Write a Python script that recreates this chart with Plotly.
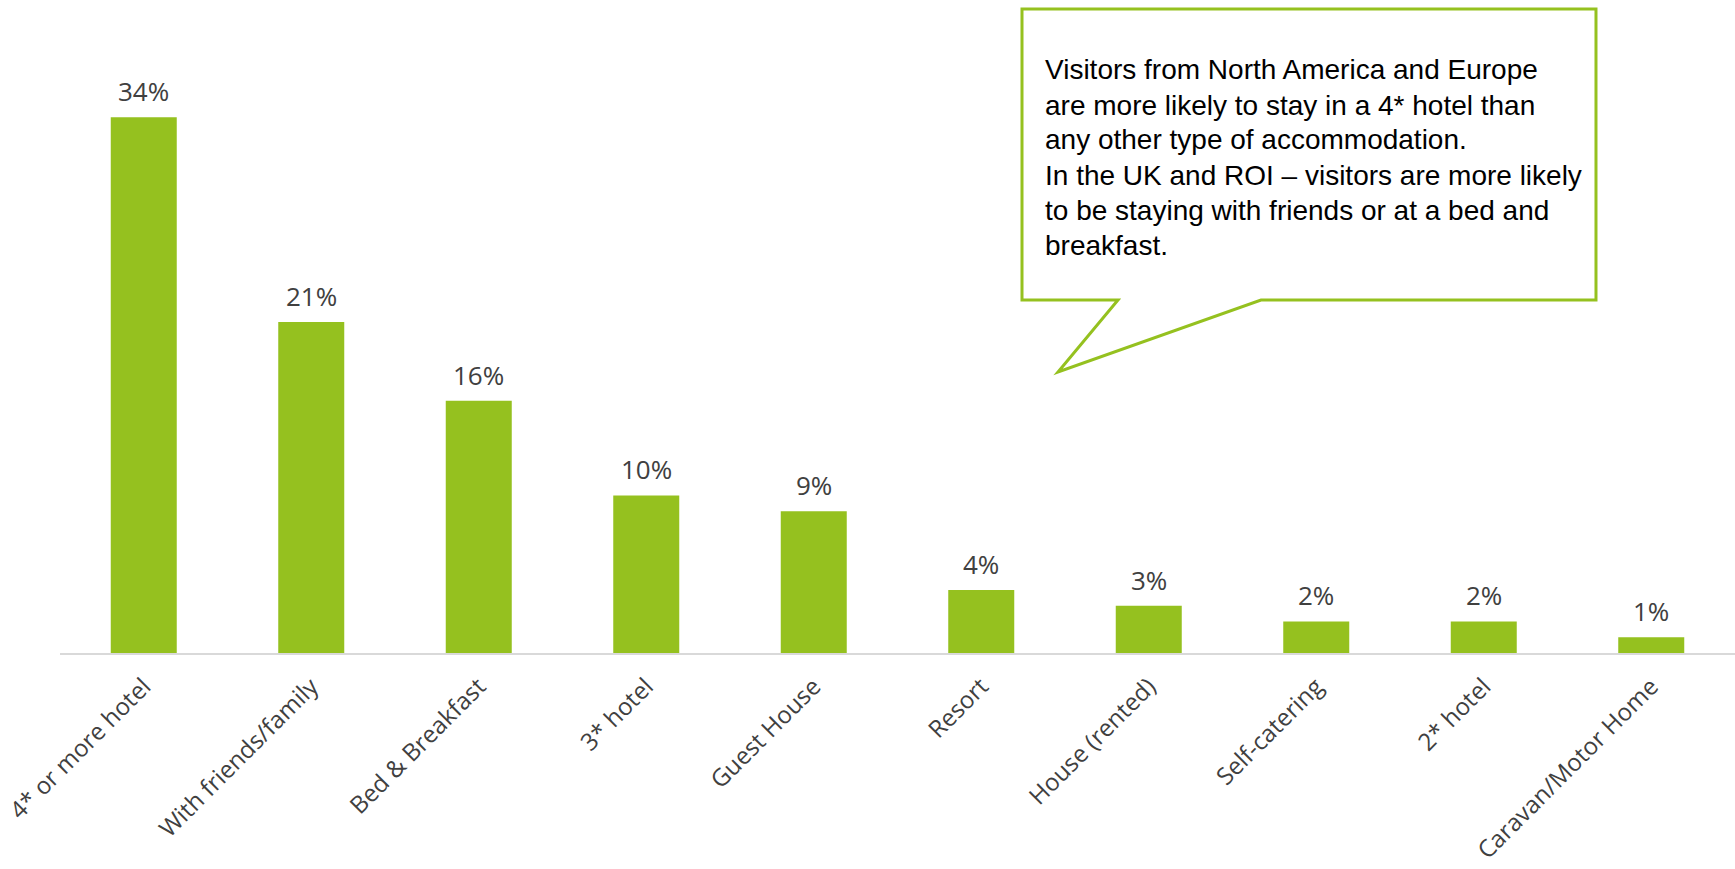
import plotly.graph_objects as go

# Accommodation type and share of visitors (%)
categories = [
    "4* or more hotel", "With friends/family", "Bed & Breakfast", "3* hotel",
    "Guest House", "Resort", "House (rented)", "Self-catering", "2* hotel",
    "Caravan/Motor Home",
]
shares = [34, 21, 16, 10, 9, 4, 3, 2, 2, 1]

callout_lines = [
    "Visitors from North America and Europe",
    "are more likely to stay in a 4* hotel than",
    "any other type of accommodation.",
    "In the UK and ROI \u2013 visitors are more likely",
    "to be staying with friends or at a bed and",
    "breakfast.",
]

GREEN = "#95C11F"
TEXT = "#404040"

W, H = 1735, 869
ML, MR, MT, MB = 60, 0, 0, 216
PW, PH = W - ML - MR, H - MT - MB


def px(x):
    return (x - ML) / PW


def py(y):
    return (H - MB - y) / PH


fig = go.Figure(
    go.Bar(
        x=categories,
        y=shares,
        marker=dict(color=GREEN, line=dict(width=0)),
        hoverinfo="skip",
    )
)

# value labels above each bar
for cat, val in zip(categories, shares):
    fig.add_annotation(
        x=cat, y=val, xref="x", yref="y",
        text=f"{val}%", showarrow=False,
        yanchor="middle", yshift=26,
        font=dict(family="Open Sans", size=26, color=TEXT),
    )

# speech-bubble callout
pts = [(1022, 9), (1596, 9), (1596, 300), (1261, 300), (1058, 372), (1118, 300), (1022, 300)]
path = "M " + " L ".join(f"{px(x):.5f},{py(y):.5f}" for x, y in pts) + " Z"
fig.add_shape(
    type="path", path=path, xref="paper", yref="paper",
    line=dict(color=GREEN, width=3), fillcolor="white", layer="above",
)

line_centres = [70, 105, 140, 175, 210, 245]
for txt, yc in zip(callout_lines, line_centres):
    fig.add_annotation(
        x=px(1043), y=py(yc), xref="paper", yref="paper",
        text=txt, showarrow=False, xanchor="left", yanchor="middle",
        font=dict(family="Liberation Sans", size=28, color="black"),
    )

fig.update_layout(
    width=W, height=H,
    margin=dict(l=ML, r=MR, t=MT, b=MB, pad=0),
    paper_bgcolor="white", plot_bgcolor="white",
    bargap=0.606,
    showlegend=False,
    xaxis=dict(
        type="category", showline=True, linecolor="#D9D9D9", linewidth=2,
        showgrid=False, zeroline=False, ticks="", tickangle=-45,
        ticklabelstandoff=8,
        tickfont=dict(family="Open Sans", size=24, color=TEXT),
    ),
    yaxis=dict(range=[0, PH / 15.76], visible=False, fixedrange=True),
)

fig.write_html("out.html")
